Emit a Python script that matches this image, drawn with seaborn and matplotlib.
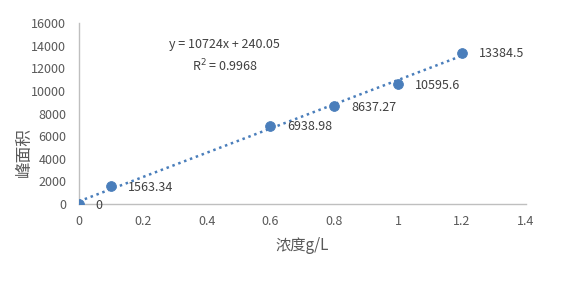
import matplotlib
matplotlib.use("Agg")
import matplotlib.pyplot as plt
import seaborn as sns
import numpy as np
import pandas as pd

conc = [0, 0.1, 0.6, 0.8, 1.0, 1.2]
area = [0, 1563.34, 6938.98, 8637.27, 10595.6, 13384.5]
labels = ["0", "1563.34", "6938.98", "8637.27", "10595.6", "13384.5"]
slope, intercept = 10724, 240.05
eq_text = "y = 10724x + 240.05\nR$^2$ = 0.9968"
xticks = [0, 0.2, 0.4, 0.6, 0.8, 1, 1.2, 1.4]
xticklabels = ["0", "0.2", "0.4", "0.6", "0.8", "1", "1.2", "1.4"]
yticks = [0, 2000, 4000, 6000, 8000, 10000, 12000, 14000, 16000]

sns.set_theme(style="white")
plt.rcParams['font.family'] = ['Noto Sans CJK SC', 'DejaVu Sans']

color = "#4A7EBB"
txt = "#404040"
df = pd.DataFrame({"conc": conc, "area": area})

fig = plt.figure(figsize=(5.76, 2.87), dpi=100)
ax = fig.add_axes([0.137, 0.289, 0.776, 0.631])

xl = np.array([min(conc), max(conc)])
ax.plot(xl, slope * xl + intercept, linestyle=(0, (1, 1.5)), color=color, linewidth=1.8, zorder=2)
sns.scatterplot(data=df, x="conc", y="area", ax=ax, color=color, s=50, edgecolor=color, zorder=3)

for x, y, l in zip(conc, area, labels):
    ax.annotate(l, (x, y), xytext=(12, -1), textcoords="offset points", ha="left", va="center",
                fontsize=9, color=txt)

ax.text(0.457, 14650, eq_text, ha="center", va="top", fontsize=9, color=txt, linespacing=1.45)

ax.set_xlim(0, 1.4)
ax.set_ylim(0, 16000)
ax.set_xticks(xticks)
ax.set_xticklabels(xticklabels)
ax.set_yticks(yticks)
ax.tick_params(axis="both", length=0, labelsize=9, colors="#595959", pad=8)
ax.tick_params(axis="y", pad=9)
for s in ["top", "right"]:
    ax.spines[s].set_visible(False)
for s in ["left", "bottom"]:
    ax.spines[s].set_color("#BFBFBF")
    ax.spines[s].set_linewidth(1.0)
ax.set_xlabel("浓度g/L", fontsize=11, color="#595959", labelpad=6)
ax.set_ylabel("峰面积", fontsize=12, color="#595959")
ax.yaxis.set_label_coords(-0.123, 0.287)
ax.yaxis.label.set_va("center")
ax.grid(False)

fig.savefig("out.png", dpi=100)
